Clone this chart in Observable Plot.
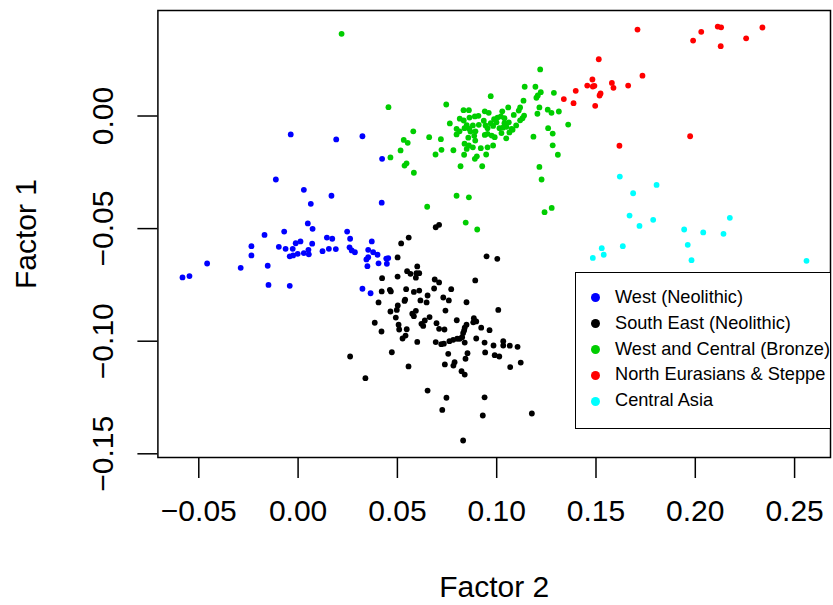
<!DOCTYPE html>
<html><head><meta charset="utf-8">
<script src="https://cdn.jsdelivr.net/npm/d3@7"></script>
<script src="https://cdn.jsdelivr.net/npm/@observablehq/plot@0.6"></script>
<style>
body{margin:0;background:#fff;font-family:"Liberation Sans",Arial,Helvetica,sans-serif;}
#wrap{position:relative;width:833px;height:605px;}
#legend{position:absolute;left:575px;top:271.5px;width:256px;height:157.5px;box-sizing:border-box;border:1.5px solid #000;background:#fff;padding-top:12.6px;font-size:18.2px;color:#000;}
#legend .row{height:25.8px;line-height:25.8px;position:relative;padding-left:39px;white-space:nowrap;}
#legend .dot{position:absolute;left:15.2px;top:8.4px;width:9px;height:9px;border-radius:50%;}
</style></head><body><div id="wrap"></div>
<script>
const groups = ["West (Neolithic)", "South East (Neolithic)", "West and Central (Bronze)", "North Eurasians & Steppe", "Central Asia"];
const colors = ["#0000FF", "#000000", "#00CD00", "#FF0000", "#00FFFF"];
const xTicks = [-0.05, 0, 0.05, 0.10, 0.15, 0.20, 0.25];
const yTicks = [-0.15, -0.10, -0.05, 0.00];

const westNeolithic = [[-0.0037,-0.0082],[0.0192,-0.0104],[0.0324,-0.0090],[0.0423,-0.0190],[-0.0112,-0.0282],[0.0029,-0.0328],[0.0168,-0.0354],[0.0064,-0.0390],[0.0421,-0.0385],[0.0049,-0.0477],[0.0073,-0.0501],[-0.0169,-0.0528],[-0.0070,-0.0513],[0.0247,-0.0513],[0.0145,-0.0540],[0.0172,-0.0545],[0.0262,-0.0545],[0.0371,-0.0557],[-0.0235,-0.0578],[-0.0097,-0.0581],[-0.0063,-0.0590],[-0.0027,-0.0590],[-0.0012,-0.0565],[0.0012,-0.0557],[0.0071,-0.0567],[0.0052,-0.0594],[0.0029,-0.0609],[-0.0002,-0.0612],[-0.0025,-0.0619],[-0.0042,-0.0623],[0.0054,-0.0614],[0.0123,-0.0600],[0.0155,-0.0590],[0.0190,-0.0591],[0.0259,-0.0583],[0.0270,-0.0597],[0.0286,-0.0605],[0.0353,-0.0594],[0.0378,-0.0605],[0.0400,-0.0616],[0.0344,-0.0637],[0.0353,-0.0627],[0.0444,-0.0633],[0.0454,-0.0631],[0.0405,-0.0654],[0.0447,-0.0656],[0.0349,-0.0667],[-0.0235,-0.0619],[-0.0458,-0.0655],[-0.0289,-0.0674],[-0.0153,-0.0665],[-0.0582,-0.0717],[-0.0547,-0.0711],[-0.0149,-0.0750],[-0.0042,-0.0754],[0.0324,-0.0767],[0.0365,-0.0787]];

const southEastNeolithic = [[0.0693,-0.0494],[0.0710,-0.0483],[0.0557,-0.0540],[0.0519,-0.0566],[0.0949,-0.0623],[0.1003,-0.0634],[0.0501,-0.0628],[0.0600,-0.0668],[0.0549,-0.0689],[0.0566,-0.0701],[0.0596,-0.0698],[0.0610,-0.0698],[0.0593,-0.0718],[0.0423,-0.0720],[0.0501,-0.0713],[0.0688,-0.0726],[0.0710,-0.0739],[0.0892,-0.0730],[0.0421,-0.0779],[0.0462,-0.0772],[0.0467,-0.0779],[0.0544,-0.0769],[0.0583,-0.0781],[0.0610,-0.0775],[0.0652,-0.0797],[0.0685,-0.0766],[0.0771,-0.0769],[0.0731,-0.0806],[0.0759,-0.0819],[0.0405,-0.0828],[0.0539,-0.0815],[0.0536,-0.0821],[0.0616,-0.0819],[0.0647,-0.0828],[0.0848,-0.0827],[0.0502,-0.0841],[0.0497,-0.0861],[0.0465,-0.0868],[0.0575,-0.0878],[0.0593,-0.0865],[0.0583,-0.0889],[0.0742,-0.0864],[0.1008,-0.0861],[0.0492,-0.0895],[0.0662,-0.0893],[0.0638,-0.0908],[0.0621,-0.0923],[0.0630,-0.0932],[0.0386,-0.0918],[0.0799,-0.0907],[0.0697,-0.0920],[0.0885,-0.0898],[0.0897,-0.0912],[0.0882,-0.0916],[0.0848,-0.0927],[0.0839,-0.0940],[0.0506,-0.0927],[0.0509,-0.0948],[0.0547,-0.0947],[0.0420,-0.0957],[0.0710,-0.0945],[0.0737,-0.0948],[0.0922,-0.0940],[0.0964,-0.0951],[0.0831,-0.0964],[0.0836,-0.0952],[0.0541,-0.0975],[0.0526,-0.0988],[0.0826,-0.0982],[0.0814,-0.0989],[0.0801,-0.0989],[0.0897,-0.0988],[0.0600,-0.1003],[0.0693,-0.1004],[0.0721,-0.1013],[0.0734,-0.1011],[0.0762,-0.1000],[0.0781,-0.0994],[0.0839,-0.1006],[0.0939,-0.1006],[0.1033,-0.1000],[0.1033,-0.1019],[0.1066,-0.1020],[0.1105,-0.1025],[0.0984,-0.1019],[0.0472,-0.1049],[0.0262,-0.1068],[0.0756,-0.1056],[0.0853,-0.1053],[0.0942,-0.1050],[0.0990,-0.1062],[0.1013,-0.1068],[0.0843,-0.1078],[0.0739,-0.1103],[0.0788,-0.1093],[0.0782,-0.1108],[0.0556,-0.1112],[0.1068,-0.1115],[0.1121,-0.1095],[0.0823,-0.1133],[0.0839,-0.1148],[0.0339,-0.1164],[0.0652,-0.1219],[0.0747,-0.1251],[0.0939,-0.1249],[0.0726,-0.1305],[0.0930,-0.1330],[0.1177,-0.1321],[0.0831,-0.1441]];

const westCentralBronze = [[0.0970,0.0088],[0.1141,0.0130],[0.1195,0.0130],[0.1222,0.0106],[0.1288,0.0103],[0.1207,0.0091],[0.1200,0.0081],[0.1135,0.0068],[0.0746,0.0051],[0.0833,0.0026],[0.0860,0.0026],[0.0940,0.0021],[0.0960,0.0014],[0.1028,0.0021],[0.1058,0.0038],[0.1118,0.0038],[0.1111,0.0024],[0.1215,0.0038],[0.1257,0.0028],[0.1276,0.0014],[0.1313,0.0020],[0.1205,0.0010],[0.1086,0.0005],[0.1138,0.0002],[0.0814,-0.0012],[0.0834,-0.0020],[0.0863,-0.0007],[0.0890,-0.0002],[0.0908,0.0001],[0.0935,-0.0021],[0.0987,-0.0014],[0.1004,-0.0007],[0.1021,-0.0002],[0.1039,-0.0010],[0.0999,-0.0028],[0.0970,-0.0032],[0.1039,-0.0032],[0.1061,-0.0028],[0.1130,-0.0010],[0.1118,-0.0019],[0.0764,-0.0033],[0.0849,-0.0041],[0.0880,-0.0042],[0.0910,-0.0039],[0.0798,-0.0057],[0.0813,-0.0068],[0.0838,-0.0054],[0.0862,-0.0057],[0.0868,-0.0069],[0.0893,-0.0068],[0.0944,-0.0042],[0.0954,-0.0054],[0.0982,-0.0044],[0.1014,-0.0054],[0.1031,-0.0052],[0.1049,-0.0048],[0.1075,-0.0057],[0.1098,-0.0042],[0.1259,-0.0054],[0.0580,-0.0068],[0.0660,-0.0094],[0.0719,-0.0103],[0.0798,-0.0082],[0.0857,-0.0096],[0.0887,-0.0088],[0.0940,-0.0084],[0.0954,-0.0079],[0.0975,-0.0087],[0.0990,-0.0094],[0.1024,-0.0076],[0.1064,-0.0073],[0.1080,-0.0061],[0.1282,-0.0078],[0.1185,-0.0092],[0.0532,-0.0106],[0.0552,-0.0119],[0.0516,-0.0153],[0.0838,-0.0123],[0.0860,-0.0131],[0.0892,-0.0109],[0.0849,-0.0146],[0.0880,-0.0139],[0.0920,-0.0143],[0.0954,-0.0139],[0.0982,-0.0131],[0.1048,-0.0099],[0.0722,-0.0150],[0.0782,-0.0152],[0.0692,-0.0171],[0.0836,-0.0172],[0.0900,-0.0179],[0.0890,-0.0190],[0.0947,-0.0171],[0.1282,-0.0130],[0.1308,-0.0172],[0.0546,-0.0210],[0.0536,-0.0220],[0.0583,-0.0252],[0.0818,-0.0223],[0.0927,-0.0223],[0.1215,-0.0226],[0.1226,-0.0282],[0.0219,0.0365],[0.1219,0.0207],[0.0455,0.0039],[0.0465,-0.0184],[0.1360,-0.0038],[0.0798,-0.0354],[0.0860,-0.0361],[0.0650,-0.0403],[0.0844,-0.0473],[0.0902,-0.0504],[0.1241,-0.0427],[0.1277,-0.0408]];

const northEurasiansSteppe = [[0.1338,0.0075],[0.1398,0.0112],[0.1387,0.0057],[0.1456,0.0135],[0.1482,0.0162],[0.1484,0.0131],[0.1492,0.0134],[0.1514,0.0252],[0.1523,0.0100],[0.1518,0.0091],[0.1496,0.0045],[0.1580,0.0147],[0.1588,0.0125],[0.1662,0.0135],[0.1618,-0.0132],[0.1709,0.0384],[0.1734,0.0179],[0.1974,-0.0090],[0.1989,0.0335],[0.2030,0.0374],[0.2113,0.0397],[0.2130,0.0394],[0.2128,0.0310],[0.2256,0.0345],[0.2338,0.0393]];

const centralAsia = [[0.1620,-0.0269],[0.1687,-0.0343],[0.1805,-0.0306],[0.1669,-0.0442],[0.1719,-0.0488],[0.1788,-0.0461],[0.1944,-0.0504],[0.2040,-0.0517],[0.2142,-0.0523],[0.2174,-0.0452],[0.1962,-0.0572],[0.1981,-0.0640],[0.1635,-0.0578],[0.1529,-0.0587],[0.1539,-0.0616],[0.1484,-0.0630],[0.2560,-0.0643]];

const seriesPoints = [westNeolithic, southEastNeolithic, westCentralBronze, northEurasiansSteppe, centralAsia];
const rows = seriesPoints.flatMap((pts, i) => pts.map(([x, y]) => ({x, y, group: groups[i]})));

const fmt = d3.format(".2f");
const chart = Plot.plot({
  width: 833,
  height: 605,
  marginLeft: 157.4,
  marginRight: 3,
  marginTop: 10,
  marginBottom: 148,
  style: {fontFamily: '"Liberation Sans", Arial, Helvetica, sans-serif', background: "#fff", color: "#000"},
  x: {domain: [-0.07059, 0.26808]},
  y: {domain: [-0.15164, 0.04685]},
  color: {domain: groups, range: colors},
  marks: [
    Plot.dot(rows, {x: "x", y: "y", fill: "group", r: 2.9, stroke: null}),
    Plot.frame({stroke: "#000", strokeWidth: 1.5}),
    Plot.axisX(xTicks, {tickSize: 21, tickPadding: 21, strokeWidth: 1.5, fontSize: 30, tickFormat: fmt,
      label: "Factor 2", labelAnchor: "center", labelArrow: "none", labelOffset: 139}),
    Plot.axisY(yTicks, {tickSize: 20, tickPadding: 25, tickRotate: -90, strokeWidth: 1.5, fontSize: 30, tickFormat: fmt,
      label: "Factor 1", labelAnchor: "center", labelArrow: "none", labelOffset: 143})
  ]
});
const wrap = document.getElementById("wrap");
wrap.appendChild(chart);

const legend = document.createElement("div");
legend.id = "legend";
groups.forEach((g, i) => {
  const row = document.createElement("div");
  row.className = "row";
  const dot = document.createElement("span");
  dot.className = "dot";
  dot.style.background = colors[i];
  row.appendChild(dot);
  row.appendChild(document.createTextNode(g));
  legend.appendChild(row);
});
wrap.appendChild(legend);
</script>
</body></html>
